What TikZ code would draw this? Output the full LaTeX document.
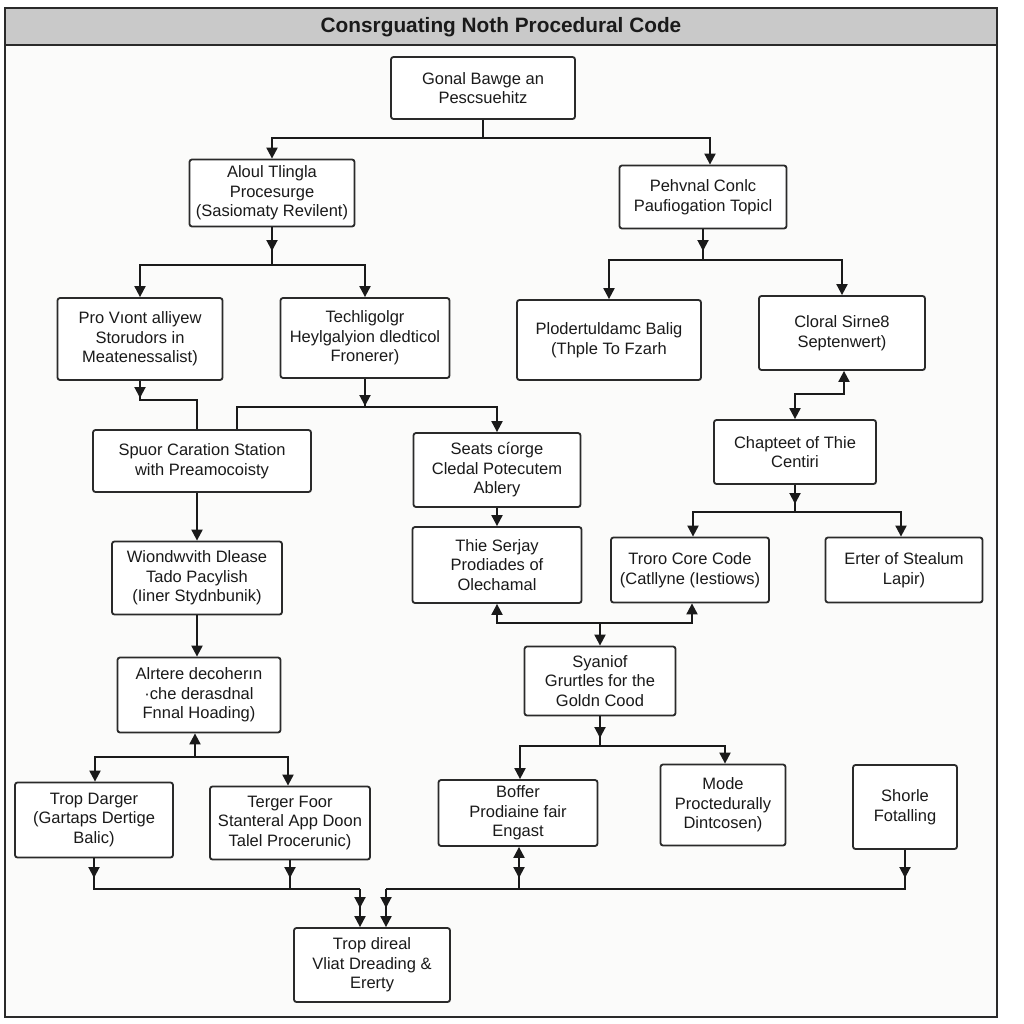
\documentclass[tikz,border=0pt]{standalone}
\usepackage{fontspec}
\setmainfont{Liberation Sans}
\usetikzlibrary{arrows.meta}
\definecolor{inkc}{HTML}{1A1A1A}
\definecolor{edgec}{HTML}{2A2A2A}
\definecolor{barc}{HTML}{C9C9C9}
\definecolor{paperc}{HTML}{FBFBFA}
\begin{document}
\begin{tikzpicture}[x=1pt,y=-1pt,
  box/.style={draw=edgec, line width=1.8pt, rounded corners=2.5pt, fill=white, align=center,
    text=inkc, font=\fontsize{16.5}{19.5}\selectfont, inner sep=1pt},
  ln/.style={draw=inkc, line width=2pt},
  arr/.style={ln, -{Triangle[length=11pt,width=11pt]}},
  darr/.style={ln, {Triangle[length=11pt,width=11pt]}-{Triangle[length=11pt,width=11pt]}}
]
\useasboundingbox (0,0) rectangle (1024,1024);
\fill[white] (0,0) rectangle (1024,1024);
\draw[edgec, line width=2pt, fill=paperc] (5,8) rectangle (997,1017);
\draw[edgec, line width=2pt, fill=barc] (5,8) rectangle (997,45);
\node[text=inkc, font=\bfseries\fontsize{20.8}{22}\selectfont] (title) at (501,27) {Consrguating Noth Procedural Code};

% boxes
\node[box, minimum width=184pt, minimum height=62pt] (A) at (483,88) {Gonal Bawge an\\Pescsuehitz};
\node[box, minimum width=165pt, minimum height=67pt] (B) at (272,193) {Aloul Tlingla\\Procesurge\\(Sasiomaty Revilent)};
\node[box, minimum width=167pt, minimum height=63pt] (C) at (703,197) {Pehvnal Conlc\\Paufiogation Topicl};
\node[box, minimum width=165pt, minimum height=82pt] (D) at (140,339) {Pro Vıont alliyew\\Storudors in\\Meatenessalist)};
\node[box, minimum width=169pt, minimum height=80pt] (E) at (365,338) {Techligolgr\\Heylgalyion dledticol\\Fronerer)};
\node[box, minimum width=184pt, minimum height=80pt] (F) at (609,340) {Plodertuldamc Balig\\(Thple To Fzarh};
\node[box, minimum width=166pt, minimum height=74pt] (G) at (842,333) {Cloral Sirne8\\Septenwert)};
\node[box, minimum width=218pt, minimum height=62pt] (H) at (202,461) {Spuor Caration Station\\with Preamocoisty};
\node[box, minimum width=167pt, minimum height=74pt] (I) at (497,470) {Seats cíorge\\Cledal Potecutem\\Ablery};
\node[box, minimum width=170pt, minimum height=73pt] (J) at (197,578) {Wiondwvith Dlease\\Tado Pacylish\\(Iiner Stydnbunik)};
\node[box, minimum width=163pt, minimum height=75pt] (K) at (199,695) {Alrtere decoherın\\·che derasdnal\\Fnnal Hoading)};
\node[box, minimum width=169pt, minimum height=76pt] (L) at (497,565) {Thie Serjay\\Prodiades of\\Olechamal};
\node[box, minimum width=162pt, minimum height=64pt] (M) at (795,452) {Chapteet of Thie\\Centiri};
\node[box, minimum width=158pt, minimum height=65pt] (N) at (690,570) {Troro Core Code\\(Catllyne (Iestiows)};
\node[box, minimum width=157pt, minimum height=65pt] (O) at (904,570) {Erter of Stealum\\Lapir)};
\node[box, minimum width=151pt, minimum height=69pt] (P) at (600,681) {Syaniof\\Grurtles for the\\Goldn Cood};
\node[box, minimum width=159pt, minimum height=66pt] (Q) at (518,813) {Boffer\\Prodiaine fair\\Engast};
\node[box, minimum width=125pt, minimum height=81pt] (R) at (723,805) {Mode\\Proctedurally\\Dintcosen)};
\node[box, minimum width=104pt, minimum height=84pt] (S) at (905,807) {Shorle\\Fotalling};
\node[box, minimum width=158pt, minimum height=75pt] (T) at (94,820) {Trop Darger\\(Gartaps Dertige\\Balic)};
\node[box, minimum width=160pt, minimum height=73pt] (U) at (290,823) {Terger Foor\\Stanteral App Doon\\Talel Procerunic)};
\node[box, minimum width=156pt, minimum height=74pt] (V) at (372,965) {Trop direal\\Vliat Dreading \&\\Ererty};

% A -> B, C
\coordinate (a1) at (483,138);
\draw[ln] (A.south) -- (a1);
\draw[arr] (a1) -| (B.north);
\draw[arr] (a1) -| ([xshift=7pt]C.north);

% B -> D, E
\coordinate (b1) at (272,265);
\draw[arr] (B.south) -- (272,251);
\draw[ln] (272,245) -- (b1);
\draw[arr] (b1) -| (D.north);
\draw[arr] (b1) -| (E.north);

% C -> F, G
\coordinate (c1) at (703,260);
\draw[arr] (C.south) -- (703,251);
\draw[ln] (703,245) -- (c1);
\draw[arr] (c1) -| (F.north);
\draw[arr] (c1) -| (G.north);

% D -> H
\draw[arr] (D.south) -- (140,398);
\draw[ln] (140,392) |- (197,400) -- ([xshift=-5pt]H.north);

% E -> H, I
\coordinate (e1) at (365,407);
\draw[arr] (E.south) -- (365,406);
\draw[ln] (365,400) -- (e1);
\draw[ln] (e1) -| ([xshift=35pt]H.north);
\draw[arr] (e1) -| (I.north);

% H -> J -> K ; I -> L
\draw[arr] ([xshift=-5pt]H.south) -- (J.north);
\draw[arr] (J.south) -- (J.south |- K.north);
\draw[arr] (I.south) -- (I.south |- L.north);

% M <-> G
\draw[darr] (M.north) -- ++(0,-25) -| ([xshift=2pt]G.south);

% M -> N, O
\coordinate (m1) at (795,512);
\draw[arr] (M.south) -- (795,504);
\draw[ln] (795,498) -- (m1);
\draw[arr] (m1) -| ([xshift=3pt]N.north);
\draw[arr] (m1) -| ([xshift=-3pt]O.north);

% P -> L, N
\coordinate (p1) at (600,623);
\draw[arr] (p1) -- (P.north);
\draw[arr] (p1) -| (L.south);
\draw[arr] (p1) -| ([xshift=2pt]N.south);

% P -> Q, R
\coordinate (p2) at (600,746);
\draw[arr] (P.south) -- (600,738);
\draw[ln] (600,732) -- (p2);
\draw[arr] (p2) -| ([xshift=2pt]Q.north);
\draw[arr] (p2) -| ([xshift=2pt]R.north);

% K -> T, U
\coordinate (k1) at (195,757);
\draw[arr] (k1) -- ([xshift=-4pt]K.south);
\draw[arr] (k1) -| ([xshift=1pt]T.north);
\draw[arr] (k1) -| ([xshift=-2pt]U.north);

% bottom collectors
\coordinate (v1) at (360,889);
\coordinate (v2) at (386,889);
\draw[arr] (T.south) -- (94,878);
\draw[ln] (94,872) -- (94,889) -- (v1);
\draw[arr] (U.south) -- (290,878);
\draw[ln] (290,872) -- (290,889);
\draw[darr] ([xshift=1pt]Q.south) -- (519,878);
\draw[ln] (519,872) -- (519,889);
\draw[arr] (S.south) -- (905,878);
\draw[ln] (905,872) -- (905,889) -- (v2);
\draw[arr] (v1) -- (360,908);
\draw[arr] (360,900) -- ([xshift=-12pt]V.north);
\draw[arr] (v2) -- (386,908);
\draw[arr] (386,900) -- ([xshift=14pt]V.north);
\end{tikzpicture}
\end{document}
